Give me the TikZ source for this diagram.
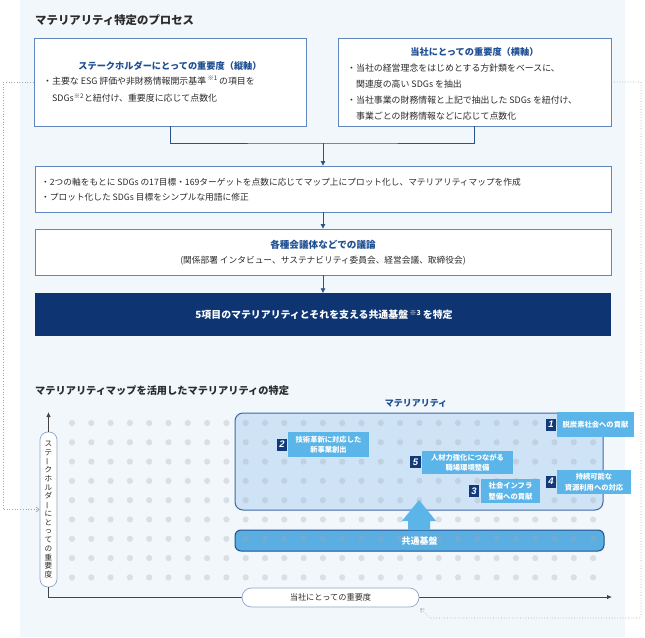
\documentclass[tikz,border=0pt]{standalone}
\usepackage{fontspec}
\usepackage{graphicx}
\setmainfont{Noto Sans CJK JP}
\newfontfamily\numfont{Liberation Sans}
\usetikzlibrary{arrows.meta,calc}
\newcommand{\jsp}{\hspace{0.22em}}
\definecolor{panelbg}{HTML}{F2F7FC}
\definecolor{boxline}{HTML}{5F86BF}
\definecolor{titleblue}{HTML}{1E4F93}
\definecolor{navy}{HTML}{0E3472}
\definecolor{txt}{HTML}{2B2B2B}
\definecolor{connc}{HTML}{2A5190}
\definecolor{matfill}{HTML}{CFE3F6}
\definecolor{matline}{HTML}{3E67A6}
\definecolor{barfill}{HTML}{5AAEE2}
\definecolor{barline}{HTML}{1F4F90}
\definecolor{lblfill}{HTML}{5BB5E8}
\definecolor{numfill}{HTML}{12397A}
\definecolor{dotgray}{HTML}{A3A8AE}
\definecolor{dotconnc}{HTML}{A0A5AB}
\definecolor{axisc}{HTML}{444444}
\definecolor{pillline}{HTML}{8FA6C8}
\begin{document}
\begin{tikzpicture}[x=1pt,y=-1pt,
  procbox/.style={draw=boxline,line width=0.9pt,fill=white,inner sep=0pt},
  btitle/.style={font=\fontsize{9.2}{11}\selectfont\bfseries,text=titleblue,inner sep=0pt},
  bline/.style={font=\fontsize{8.9}{10}\selectfont,text=txt,anchor=west,inner sep=0pt},
  conn/.style={draw=connc,line width=0.8pt},
  connarrow/.style={conn,-{Triangle[length=4.5pt,width=4.5pt]}},
  dotconn/.style={draw=dotconnc,line width=0.7pt,dotted},
  lbl/.style={fill=lblfill,text=white,inner sep=0pt,align=center,font=\fontsize{7.3}{10.5}\selectfont\bfseries},
  numsq/.style={fill=numfill,text=white,inner sep=0pt,minimum width=10.5pt,minimum height=12pt,font=\numfont\fontsize{9.5}{9.5}\selectfont\bfseries\itshape},
  axisline/.style={draw=axisc,line width=0.8pt},
  pill/.style={draw=pillline,line width=0.7pt,fill=white,inner sep=0pt,text=txt}
]
\useasboundingbox (0,0) rectangle (645,637);
\fill[panelbg] (20,0) rectangle (625,637);

% ---------- process section ----------
\node[anchor=west,inner sep=0pt,font=\fontsize{11.4}{13}\selectfont\bfseries,text=txt] (t1) at (35,20) {マテリアリティ特定のプロセス};

\node[procbox,minimum width=272pt,minimum height=88pt] (A) at (170,82) {};
\node[btitle] (Atitle) at (170,66) {ステークホルダーにとっての重要度（縦軸）};
\node[bline] (A1) at (43,81) {・主要な\jsp ESG\jsp 評価や非財務情報開示基準\textsuperscript{\jsp※1\jsp}の項目を};
\node[bline] (A2) at (43,98) {\hphantom{・}SDGs\textsuperscript{※2}と紐付け、重要度に応じて点数化};

\node[procbox,minimum width=273pt,minimum height=88pt] (B) at (474.5,82) {};
\node[btitle] (Btitle) at (474.5,52) {当社にとっての重要度（横軸）};
\node[bline] (B1) at (347,68) {・当社の経営理念をはじめとする方針類をベースに、};
\node[bline] (B2) at (347,84) {\hphantom{・}関連度の高い\jsp SDGs\jsp を抽出};
\node[bline] (B3) at (347,100) {・当社事業の財務情報と上記で抽出した\jsp SDGs\jsp を紐付け、};
\node[bline] (B4) at (347,116) {\hphantom{・}事業ごとの財務情報などに応じて点数化};

\node[procbox,minimum width=576pt,minimum height=46pt] (C) at (323,189) {};
\node[bline,font=\fontsize{8.7}{10}\selectfont] (C1) at (41,182) {・2つの軸をもとに\jsp SDGs\jsp の17目標・169ターゲットを点数に応じてマップ上にプロット化し、マテリアリティマップを作成};
\node[bline,font=\fontsize{8.7}{10}\selectfont] (C2) at (41,197) {・プロット化した\jsp SDGs\jsp 目標をシンプルな用語に修正};

\node[procbox,minimum width=576pt,minimum height=46pt] (D) at (323,252) {};
\node[btitle,font=\fontsize{9.6}{11}\selectfont\bfseries] (Dtitle) at (323,245) {各種会議体などでの議論};
\node[bline,anchor=center,font=\fontsize{8.7}{10}\selectfont] (Dsub) at (323,261) {(関係部署 インタビュー、サステナビリティ委員会、経営会議、取締役会)};

\node[fill=navy,inner sep=0pt,minimum width=576pt,minimum height=43pt] (E) at (323,314.5) {};
\node[inner sep=0pt,text=white,font=\fontsize{9.9}{11}\selectfont\bfseries] (Etext) at (324,315) {5項目のマテリアリティとそれを支える共通基盤\textsuperscript{\jsp※3\jsp}を特定};

\coordinate (hub) at (323,143);
\draw[conn] (A.south) |- (hub) -| (B.south);
\draw[connarrow] (hub) -- (C.north);
\draw[connarrow] (C.south) -- (D.north);
\draw[connarrow] (D.south) -- (E.north);

% ---------- map section ----------
\node[anchor=west,inner sep=0pt,font=\fontsize{10.2}{12}\selectfont\bfseries,text=txt] (t2) at (35,391) {マテリアリティマップを活用したマテリアリティの特定};

\node[draw=matline,line width=1pt,fill=matfill,rounded corners=8pt,minimum width=368pt,minimum height=97pt,inner sep=0pt] (mat) at (419,461.5) {};
\node[inner sep=0pt,text=titleblue,font=\fontsize{9}{11}\selectfont\bfseries] (matlbl) at (416,403) {マテリアリティ};
\node[draw=barline,line width=1pt,fill=barfill,rounded corners=6pt,minimum width=369pt,minimum height=21pt,inner sep=0pt] (bar) at (419.5,540.5) {};

\foreach \i in {0,...,27} {
  \foreach \j in {0,...,8} {
    \fill[dotgray,opacity=0.3] (72+19.3*\i,423+19.3*\j) circle (3.1pt);
  }
}
\node[inner sep=0pt,text=white,font=\fontsize{9}{11}\selectfont\bfseries] (bartext) at (419.5,541) {共通基盤};

\fill[lblfill] (408,530) -- (408,521) -- (402,521) -- (419,500) -- (436,521) -- (430,521) -- (430,530) -- cycle;

% labels
\node[lbl,minimum width=77pt,minimum height=25pt] (L1) at (595.5,424.5) {脱炭素社会への貢献};
\node[numsq] (N1) at (551,424.5) {1};
\node[lbl,minimum width=81pt,minimum height=25pt] (L2) at (328.5,444.5) {技術革新に対応した\\新事業創出};
\node[numsq] (N2) at (282,444.5) {2};
\node[lbl,minimum width=91pt,minimum height=23pt] (L5) at (467.5,462.5) {人材力強化につながる\\職場環境整備};
\node[numsq] (N5) at (415.5,462) {5};
\node[lbl,minimum width=59pt,minimum height=24pt] (L3) at (510.5,491) {社会インフラ\\整備への貢献};
\node[numsq] (N3) at (474,491) {3};
\node[lbl,minimum width=74pt,minimum height=24pt] (L4) at (594,482) {持続可能な\\資源利用への対応};
\node[numsq] (N4) at (551,481.5) {4};

% axes
\node[pill,rounded corners=8pt,minimum width=17pt,minimum height=155pt,align=center,font=\fontsize{7.6}{8.75}\selectfont] (vlab) at (48.5,509.5) {ス\\テ\\\rotatebox[origin=c]{90}{ー}\\ク\\ホ\\ル\\ダ\\\rotatebox[origin=c]{90}{ー}\\に\\と\\っ\\て\\の\\重\\要\\度};
\coordinate (vtip) at (48.5,412);
\coordinate (htip) at (612,597);
\draw[axisline,-{Latex[length=5pt,width=4.5pt]}] (vlab.north) -- (vtip);
\draw[axisline,-{Latex[length=5pt,width=4.5pt]}] (vlab.south) |- (htip);
\node[pill,rounded corners=9.5pt,minimum width=177pt,minimum height=19pt,font=\fontsize{8.2}{10}\selectfont] (hlab) at (330.5,597.5) {当社にとっての重要度};

% dotted feedback connectors
\coordinate (l1) at (3,82);
\coordinate (l2) at (3,509.5);
\draw[dotconn,-{Straight Barb[length=3pt,width=5pt]}] (A.west) -- (l1) -- (l2) -- (vlab.west);
\coordinate (r1) at (641,82);
\coordinate (r2) at (641,618);
\coordinate (r3) at (430,618);
\draw[dotconn,-{Straight Barb[length=3pt,width=5pt]},shorten >=1.5pt] (B.east) -- (r1) -- (r2) -- (r3) -- (hlab.south east);
\end{tikzpicture}
\end{document}
